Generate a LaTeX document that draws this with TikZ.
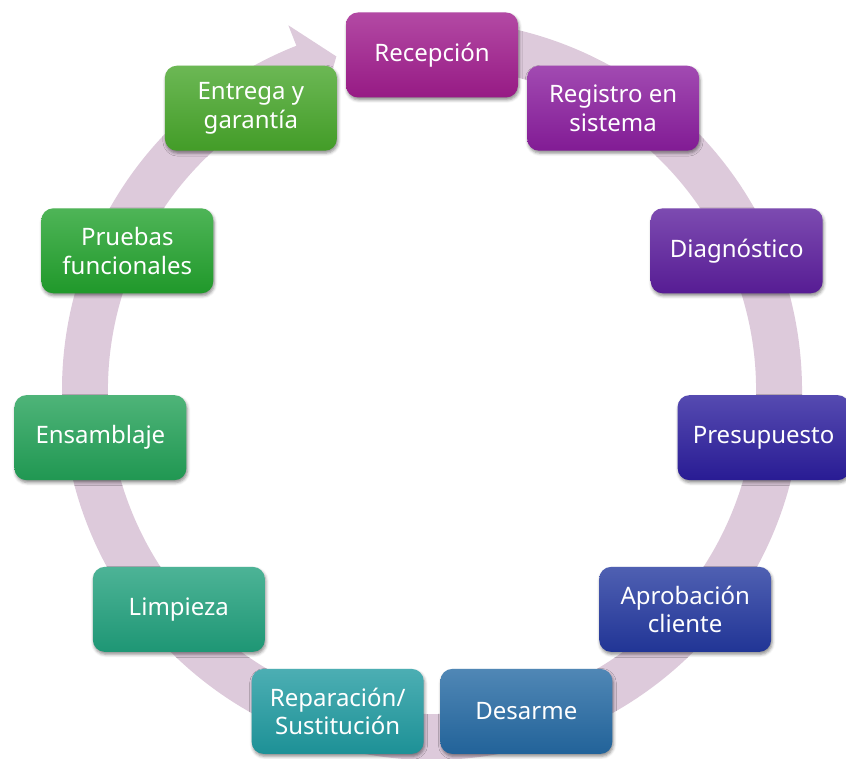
\documentclass[tikz,border=0pt]{standalone}
\usepackage{fontspec}
\setmainfont{Noto Sans}
\usetikzlibrary{shadows.blur}
\definecolor{ringcol}{HTML}{DDCADB}
\definecolor{ca}{HTML}{A01C8D}
\definecolor{cb}{HTML}{8A1D9E}
\definecolor{cc}{HTML}{5C1E9D}
\definecolor{cd}{HTML}{2B1D9D}
\definecolor{ce}{HTML}{23389F}
\definecolor{cf}{HTML}{2469A3}
\definecolor{cg}{HTML}{1F9AA0}
\definecolor{ch}{HTML}{20A07C}
\definecolor{ci}{HTML}{22A157}
\definecolor{cj}{HTML}{22A22D}
\definecolor{ck}{HTML}{47A62A}
\begin{document}
\begin{tikzpicture}[x=1pt,y=1pt,
  stepbox/.style={rounded corners=12pt, minimum width=172pt, minimum height=85pt,
    align=center, text=white, font=\fontsize{24}{28.5}\selectfont,
    top color=#1!80!white, middle color=#1, bottom color=#1!94!black,
    blur shadow={shadow xshift=1pt, shadow yshift=-2.5pt, shadow blur radius=3pt, shadow opacity=45}},
]
\useasboundingbox (0,0) rectangle (846,759);
\begin{scope}[shift={(432,369)}]
  \fill[ringcol] (95:370) arc[start angle=95,end angle=-248.5,radius=370]
    -- (111.5:392) -- (106:347) -- (111.5:302) -- (111.5:324)
    arc[start angle=111.5,end angle=455,radius=324] -- cycle;
  \node[stepbox=ca] (n1) at (90:335) {Recepción};
  \node[stepbox=cb] (n2) at (57.27:335) {Registro en\\sistema};
  \node[stepbox=cc] (n3) at (24.55:335) {Diagnóstico};
  \node[stepbox=cd] (n4) at (-8.18:335) {Presupuesto};
  \node[stepbox=ce] (n5) at (-40.91:335) {Aprobación\\cliente};
  \node[stepbox=cf] (n6) at (-73.64:335) {Desarme};
  \node[stepbox=cg] (n7) at (-106.36:335) {Reparación/\\Sustitución};
  \node[stepbox=ch] (n8) at (-139.09:335) {Limpieza};
  \node[stepbox=ci] (n9) at (-171.82:335) {Ensamblaje};
  \node[stepbox=cj] (n10) at (-204.55:335) {Pruebas\\funcionales};
  \node[stepbox=ck] (n11) at (-237.27:335) {Entrega y\\garantía};
\end{scope}
\end{tikzpicture}
\end{document}
